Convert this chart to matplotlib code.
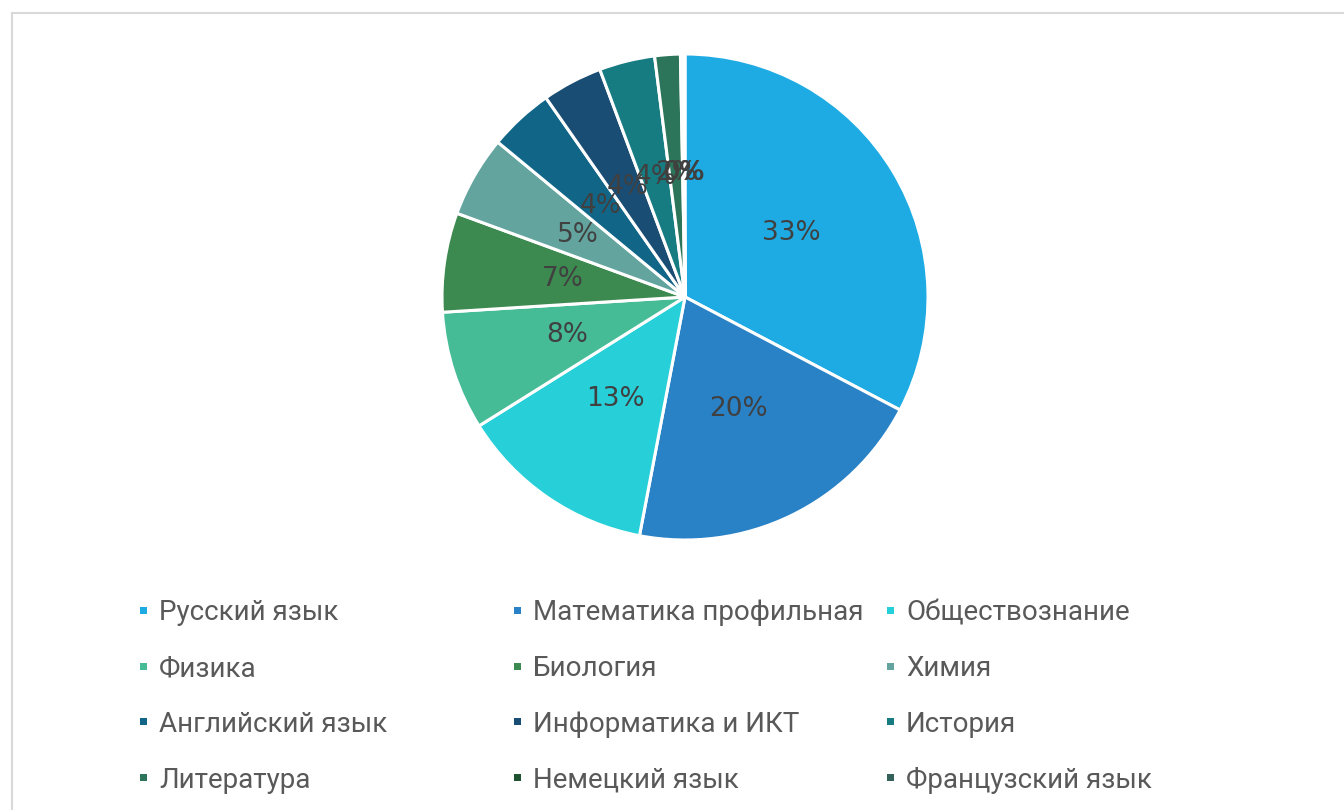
import matplotlib
matplotlib.use("Agg")
import matplotlib.pyplot as plt
from matplotlib.patches import Rectangle

subjects = ["Русский язык", "Математика профильная", "Обществознание",
            "Физика", "Биология", "Химия",
            "Английский язык", "Информатика и ИКТ", "История",
            "Литература", "Немецкий язык", "Французский язык"]
shares = [32.7, 20.3, 13.1, 7.9, 6.6, 5.4, 4.3, 4.0, 3.7, 1.7, 0.2, 0.1]
colors = ["#1EABE3", "#2981C6", "#27CFD8", "#45BB96", "#3D8A50", "#63A49F",
          "#116688", "#1A4D74", "#177C82", "#2C755A", "#1F5230", "#34615A"]

W, H = 1344, 810
fig = plt.figure(figsize=(W / 100, H / 100), dpi=100)
fig.patch.set_facecolor("white")

# outer chart frame
fig.patches.append(Rectangle((12 / W, -0.1), 1.2, 1 - 13 / H + 0.1,
                             transform=fig.transFigure, fill=False,
                             edgecolor="#D9D9D9", linewidth=1.5))

cx, cy, r = 685, 297, 243
ax = fig.add_axes([(cx - r) / W, (H - cy - r) / H, 2 * r / W, 2 * r / H])
wedges, texts, autotexts = ax.pie(
    shares, colors=colors, startangle=90, counterclock=False,
    autopct="%.0f%%", pctdistance=0.51,
    wedgeprops=dict(edgecolor="white", linewidth=2.2),
    textprops=dict(color="#404040", fontsize=19, family="DejaVu Sans"))
ax.set_xlim(-1, 1)
ax.set_ylim(-1, 1)
ax.set_aspect("equal")

# legend: 3 columns x 4 rows
col_x = [143, 517, 890]
row_y = [610, 666, 721, 777]
for i, (lab, col) in enumerate(zip(subjects, colors)):
    c, rr = i % 3, i // 3
    x, y = col_x[c], row_y[rr]
    fig.patches.append(Rectangle(((x - 3.5) / W, (H - y - 3.5) / H), 7 / W, 7 / H,
                                 transform=fig.transFigure, facecolor=col,
                                 edgecolor="none"))
    fig.text((x + 16) / W, (H - y - 3) / H, lab, fontsize=20, color="#595959",
             va="center", ha="left", family="Roboto")

fig.savefig("out.png", dpi=100)
